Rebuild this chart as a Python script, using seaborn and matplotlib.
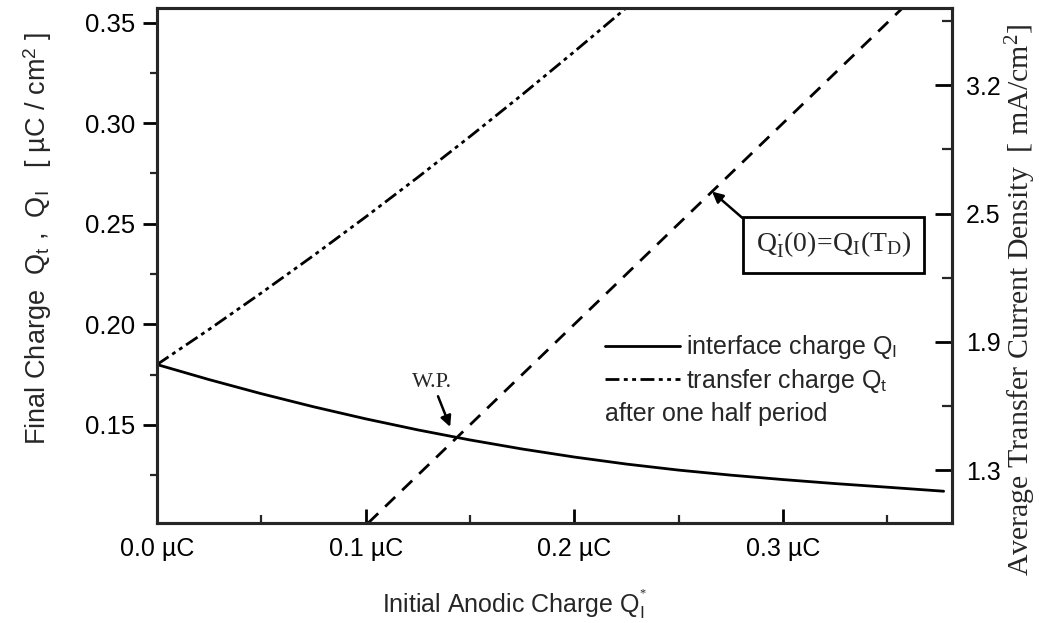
import matplotlib
matplotlib.use("Agg")
import matplotlib.pyplot as plt
import seaborn as sns
import pandas as pd

# Initial anodic charge Q_I* (µC) and the resulting final charges (µC/cm²)
q_init = [0.0, 0.025, 0.05, 0.075, 0.10, 0.125, 0.15, 0.175, 0.20, 0.225,
          0.25, 0.275, 0.30, 0.325, 0.35, 0.377]
q_interface = [0.180, 0.1725, 0.1655, 0.159, 0.153, 0.1475, 0.1425, 0.138,
               0.134, 0.1305, 0.1275, 0.125, 0.1228, 0.1208, 0.119, 0.117]

q_init_t = [0.0, 0.025, 0.05, 0.075, 0.10, 0.125, 0.15, 0.175, 0.20, 0.2245]
q_transfer = [0.180, 0.1975, 0.2156, 0.2342, 0.2534, 0.2731, 0.2934, 0.3142,
              0.3356, 0.357]

# Periodicity condition Q_I*(0) = Q_I(T_D)
q_diag_x = [0.1012, 0.357]
q_diag_y = [0.1012, 0.357]

# Working point
wp_x, wp_y = 0.1405, 0.149
# Marker on the periodicity line
box_x, box_y = 0.266, 0.266

x_ticks = [0.0, 0.1, 0.2, 0.3]
x_tick_labels = ["0.0 µC", "0.1 µC", "0.2 µC", "0.3 µC"]
y_ticks = [0.15, 0.20, 0.25, 0.30, 0.35]

# Right axis: average transfer current density (mA/cm²)
current_per_charge = 9.88
j_ticks = [1.26, 1.89, 2.52, 3.15]
j_tick_labels = ["1.3", "1.9", "2.5", "3.2"]
j_minor = [1.575, 2.205, 2.835, 3.465]

sns.set_theme(style="ticks")
plt.rcParams["font.family"] = ["Liberation Sans", "DejaVu Sans"]
plt.rcParams["mathtext.fontset"] = "custom"
plt.rcParams["mathtext.rm"] = "Liberation Serif"
plt.rcParams["mathtext.sf"] = "Liberation Sans"
plt.rcParams["mathtext.it"] = "Liberation Serif:italic"

fig = plt.figure(figsize=(10.39, 6.23), dpi=100)
ax = fig.add_axes([157 / 1039, 1 - 523 / 623, (952 - 157) / 1039, (523 - 8) / 623])

df_i = pd.DataFrame({"x": q_init, "y": q_interface})
df_t = pd.DataFrame({"x": q_init_t, "y": q_transfer})
df_d = pd.DataFrame({"x": q_diag_x, "y": q_diag_y})

sns.lineplot(data=df_i, x="x", y="y", ax=ax, color="black", lw=2.0,
             label=r"interface charge Q$_\mathsf{I}$")
sns.lineplot(data=df_t, x="x", y="y", ax=ax, color="black", lw=2.0,
             linestyle=(0, (5, 1.6, 1.4, 1.6, 1.4, 1.6)),
             label=r"transfer charge Q$_\mathsf{t}$")
sns.lineplot(data=df_d, x="x", y="y", ax=ax, color="black", lw=2.0,
             linestyle=(0, (5, 3.5)))

ax.set_xlim(0.0, 0.381)
ax.set_ylim(0.1012, 0.3573)

ax.set_xticks(x_ticks, x_tick_labels)
ax.set_xticks([0.05, 0.15, 0.25, 0.35], minor=True)
ax.set_yticks(y_ticks, [f"{v:.2f}" for v in y_ticks])
ax.set_yticks([0.125, 0.175, 0.225, 0.275, 0.325], minor=True)

for side in ["left", "right", "top", "bottom"]:
    ax.spines[side].set_linewidth(2.2)
    ax.spines[side].set_color("black")

ax.tick_params(axis="x", which="major", direction="in", length=10, width=2,
               pad=10, labelsize=18, colors="black")
ax.tick_params(axis="x", which="minor", direction="in", length=6, width=1.6)
ax.tick_params(axis="y", which="major", direction="out", length=10, width=2,
               pad=6, labelsize=18.5, colors="black")
ax.tick_params(axis="y", which="minor", direction="out", length=5, width=1.6)
for lab in ax.get_xticklabels():
    lab.set_family(["Liberation Sans Narrow", "Liberation Sans"])

ax.set_xlabel(r"Initial Anodic Charge Q$_\mathsf{I}^{^{*}}$", fontsize=18,
              family=["Liberation Sans Narrow", "Liberation Sans"])
ax.xaxis.set_label_coords(0.45, -0.125)
ax.set_ylabel(r"Final Charge  Q$_\mathsf{t}$ ,  Q$_\mathsf{I}$   [ µC / cm$^\mathsf{2}$ ]",
              fontsize=19.5)
ax.yaxis.set_label_coords(-0.13, 0.553)

# Secondary axis with current density
ax2 = ax.twinx()
lo, hi = ax.get_ylim()
ax2.set_ylim(lo * current_per_charge, hi * current_per_charge)
ax2.set_yticks(j_ticks, j_tick_labels)
ax2.set_yticks(j_minor, minor=True)
ax2.tick_params(axis="y", which="major", direction="in", length=12, width=2,
                pad=10, labelsize=18, colors="black")
ax2.tick_params(axis="y", which="minor", direction="in", length=7, width=1.6)
for side in ["left", "right", "top", "bottom"]:
    ax2.spines[side].set_linewidth(2.2)
fig.text(1021 / 1039, 1 - 300 / 623,
         r"Average Transfer Current Density  [ mA/cm$^2$]",
         family="Liberation Serif", fontsize=21.5, rotation=90,
         ha="center", va="center")

# Legend
leg = ax.legend(loc="upper left", bbox_to_anchor=(0.5635, 0.368), frameon=False,
                fontsize=18, handlelength=3.0, handletextpad=0.25,
                labelspacing=0.22, borderaxespad=0, borderpad=0)
ax.text(0.5635, 0.212, "after one half period", transform=ax.transAxes,
        fontsize=18, ha="left", va="center")

# Working point
ax.annotate("W.P.", xy=(wp_x, wp_y), xytext=(0.132, 0.1665),
            fontsize=16, family="Liberation Serif", ha="center", va="bottom",
            arrowprops=dict(arrowstyle="-|>", color="black", lw=1.8,
                            mutation_scale=16, shrinkA=1, shrinkB=0))

# Periodicity condition label
ax.annotate(r"$\mathrm{Q}_\mathrm{I}^{\bullet}(0)\!=\!\mathrm{Q}_\mathrm{I}(\mathrm{T}_\mathrm{D})$",
            xy=(box_x, box_y), xytext=(0.3242, 0.2395),
            fontsize=20, ha="center", va="center",
            bbox=dict(boxstyle="square,pad=0.45", fc="white", ec="black", lw=2),
            arrowprops=dict(arrowstyle="-|>", color="black", lw=1.8,
                            mutation_scale=16, shrinkA=0, shrinkB=0,
                            relpos=(0, 1)))

fig.savefig("out.png", dpi=100)
